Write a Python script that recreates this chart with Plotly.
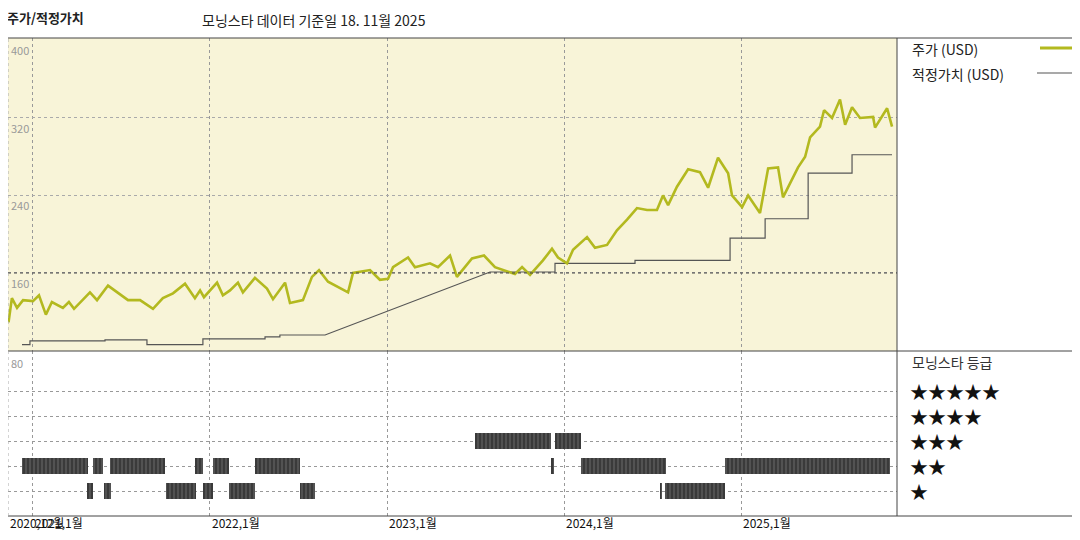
import plotly.graph_objects as go

# price (USD), x in decimal years
price_t = [2020.862, 2020.881, 2020.910, 2020.944, 2021.000, 2021.034, 2021.073, 2021.107, 2021.169,
           2021.203, 2021.232, 2021.322, 2021.362, 2021.424, 2021.537, 2021.605, 2021.678, 2021.734,
           2021.791, 2021.859, 2021.915, 2021.944, 2021.966, 2022.040, 2022.073, 2022.113, 2022.158,
           2022.186, 2022.254, 2022.322, 2022.356, 2022.424, 2022.452, 2022.525, 2022.576, 2022.616,
           2022.667, 2022.734, 2022.780, 2022.808, 2022.904, 2022.960, 2023.006, 2023.034, 2023.119,
           2023.158, 2023.243, 2023.288, 2023.356, 2023.395, 2023.480, 2023.548, 2023.610, 2023.723,
           2023.763, 2023.808, 2023.881, 2023.932, 2023.966, 2024.017, 2024.051, 2024.130, 2024.175,
           2024.243, 2024.299, 2024.356, 2024.412, 2024.469, 2024.525, 2024.559, 2024.588, 2024.638,
           2024.701, 2024.768, 2024.814, 2024.870, 2024.927, 2024.949, 2025.006, 2025.040, 2025.107,
           2025.153, 2025.209, 2025.237, 2025.322, 2025.362, 2025.390, 2025.446, 2025.469, 2025.514,
           2025.559, 2025.588, 2025.627, 2025.672, 2025.746, 2025.757, 2025.825, 2025.853]
price = [109, 134, 124, 132, 131, 137, 117, 130, 124, 130, 123, 140, 132, 147, 132, 132, 123, 134,
         139, 149, 134, 142, 135, 150, 137, 142, 150, 140, 155, 144, 133, 150, 129, 132, 156, 163,
         151, 144, 140, 160, 163, 153, 154, 166, 176, 166, 170, 166, 178, 156, 175, 178, 166, 159,
         166, 158, 173, 185, 176, 170, 184, 197, 186, 189, 204, 215, 227, 225, 225, 240, 230, 249,
         267, 264, 248, 279, 263, 240, 228, 240, 222, 268, 269, 238, 269, 280, 300, 311, 328, 320,
         339, 313, 331, 320, 321, 310, 330, 311]

# fair value (USD)
fair_t = [2020.938, 2020.983, 2020.983, 2021.407, 2021.407, 2021.644, 2021.644, 2021.960, 2021.960,
          2022.311, 2022.311, 2022.395, 2022.395, 2022.650, 2023.582, 2023.949, 2023.949, 2024.401,
          2024.401, 2024.938, 2024.938, 2025.136, 2025.136, 2025.379, 2025.379, 2025.627, 2025.627,
          2025.853]
fair = [86, 86, 90, 90, 91, 91, 86, 86, 92, 92, 94, 94, 96, 96, 161, 161, 170, 170, 173, 173, 196,
        196, 216, 216, 263, 263, 282, 282]

# morningstar rating periods: (start, end, stars)
rating_start = [2020.938, 2021.339, 2021.435, 2021.915, 2022.017, 2022.254, 2023.932, 2024.096, 2024.910,
                2021.305, 2021.401, 2021.751, 2021.960, 2022.107, 2022.508, 2024.542, 2024.571,
                2023.497, 2023.949]
rating_end = [2021.311, 2021.395, 2021.746, 2021.960, 2022.107, 2022.508, 2023.943, 2024.576, 2025.842,
              2021.339, 2021.441, 2021.921, 2022.017, 2022.254, 2022.593, 2024.554, 2024.910,
              2023.927, 2024.096]
rating_stars = [2, 2, 2, 2, 2, 2, 2, 2, 2, 1, 1, 1, 1, 1, 1, 1, 1, 3, 3]

year_ticks = [2020.859, 2021, 2022, 2023, 2024, 2025]
year_labels = ['2020,12월', '2021,1월', '2022,1월', '2023,1월', '2024,1월', '2025,1월']
y_ticks = [400, 320, 240, 160, 80]

FONT = 'Noto Sans CJK KR'
OLIVE = '#b3b91f'
X0, X1 = 2020.859, 2025.881
# plot box in page pixels (page has an 8px body offset)
L, R, T, B = 8, 897, 38, 516


def px(x):
    return (x - L) / (R - L)


def py(y):
    return (B - y) / (B - T)


SPLIT = py(351)

fig = go.Figure()
fig.add_trace(go.Scatter(x=fair_t, y=fair, mode='lines', line=dict(color='#555', width=1.2),
                         xaxis='x', yaxis='y2', showlegend=False))
fig.add_trace(go.Scatter(x=price_t, y=price, mode='lines', line=dict(color=OLIVE, width=2.6),
                         xaxis='x', yaxis='y2', showlegend=False))
fig.add_trace(go.Bar(
    x=[(a + b) / 2 for a, b in zip(rating_start, rating_end)],
    width=[b - a for a, b in zip(rating_start, rating_end)],
    base=[s - 0.32 for s in rating_stars], y=[0.64] * len(rating_stars),
    marker=dict(color='#3a3a3a', line=dict(width=0),
                pattern=dict(shape='|', fgcolor='#9a9a9a', bgcolor='#3a3a3a', size=4, solidity=0.25)),
    xaxis='x', yaxis='y', showlegend=False))

fig.update_layout(
    width=1080, height=540, margin=dict(l=L - 8, r=1080 - (R - 8), t=T - 8, b=540 - (B - 8)),
    paper_bgcolor='white', plot_bgcolor='white', bargap=0,
    font=dict(family=FONT, color='#333'),
    xaxis=dict(range=[X0, X1], tickvals=year_ticks[1:], showticklabels=False, showgrid=True,
               gridcolor='#999', griddash='dot', zeroline=False, anchor='y'),
    yaxis=dict(domain=[0, SPLIT], range=[0, 6.6], tickvals=[1, 2, 3, 4, 5], showticklabels=False,
               gridcolor='#999', griddash='dot', zeroline=False, fixedrange=True),
    yaxis2=dict(domain=[SPLIT, 1], range=[79.5, 402.5], tickvals=[320, 240, 160],
                showticklabels=False, gridcolor='#aaa', griddash='dot', zeroline=False),
    shapes=[
        dict(type='rect', xref='x', yref='y2', x0=X0, x1=X1, y0=79.5, y1=402.5,
             fillcolor='#f8f4d8', line=dict(width=0), layer='below'),
        dict(type='line', xref='x', yref='y2', x0=X0, x1=X1, y0=160, y1=160,
             line=dict(color='#444', width=1, dash='dot')),
        dict(type='line', xref='paper', yref='paper', x0=0, x1=px(1080), y0=1, y1=1,
             line=dict(color='#444', width=1)),
        dict(type='line', xref='paper', yref='paper', x0=0, x1=px(1080), y0=SPLIT, y1=SPLIT,
             line=dict(color='#444', width=1)),
        dict(type='line', xref='paper', yref='paper', x0=0, x1=px(1080), y0=0, y1=0,
             line=dict(color='#444', width=1)),
        dict(type='line', xref='paper', yref='paper', x0=1, x1=1, y0=0, y1=1,
             line=dict(color='#444', width=1)),
        dict(type='line', xref='paper', yref='paper', x0=0, x1=0, y0=0, y1=1,
             line=dict(color='#aaa', width=1, dash='dot')),
        dict(type='line', xref='paper', yref='paper', x0=px(1040), x1=px(1072), y0=py(48), y1=py(48),
             line=dict(color=OLIVE, width=3)),
        dict(type='line', xref='paper', yref='paper', x0=px(1037), x1=px(1072), y0=py(73), y1=py(73),
             line=dict(color='#555', width=1.2)),
    ],
)

ann = [
    dict(x=px(5), y=py(17), text='<b>주가/적정가치</b>', font=dict(size=13, color='#222')),
    dict(x=px(200), y=py(20), text='모닝스타 데이터 기준일 18. 11월 2025', font=dict(size=14, color='#222')),
    dict(x=px(910), y=py(49), text='주가 (USD)', font=dict(size=14, color='#222')),
    dict(x=px(910), y=py(74), text='적정가치 (USD)', font=dict(size=14, color='#222')),
    dict(x=px(910), y=py(362), text='모닝스타 등급', font=dict(size=14, color='#333')),
]
for v in y_ticks:
    ypos = SPLIT + (v - 79.5) / 323 * (1 - SPLIT) - 10 / (B - T) if v > 80 else py(363)
    ann.append(dict(x=px(9), y=ypos, text=str(v), font=dict(size=11, color='#999')))
for i in range(5):
    ann.append(dict(x=px(908), y=py(391 + 25 * i), text='★' * (5 - i), font=dict(size=18, color='#111')))
for t, lab in zip(year_ticks, year_labels):
    ann.append(dict(x=(t - X0) / (X1 - X0), y=py(522), text=lab, font=dict(size=12, color='#111')))
for a in ann:
    a.update(xref='paper', yref='paper', xanchor='left', yanchor='middle', showarrow=False)
fig.update_layout(annotations=ann)

fig.write_html('out.html')
